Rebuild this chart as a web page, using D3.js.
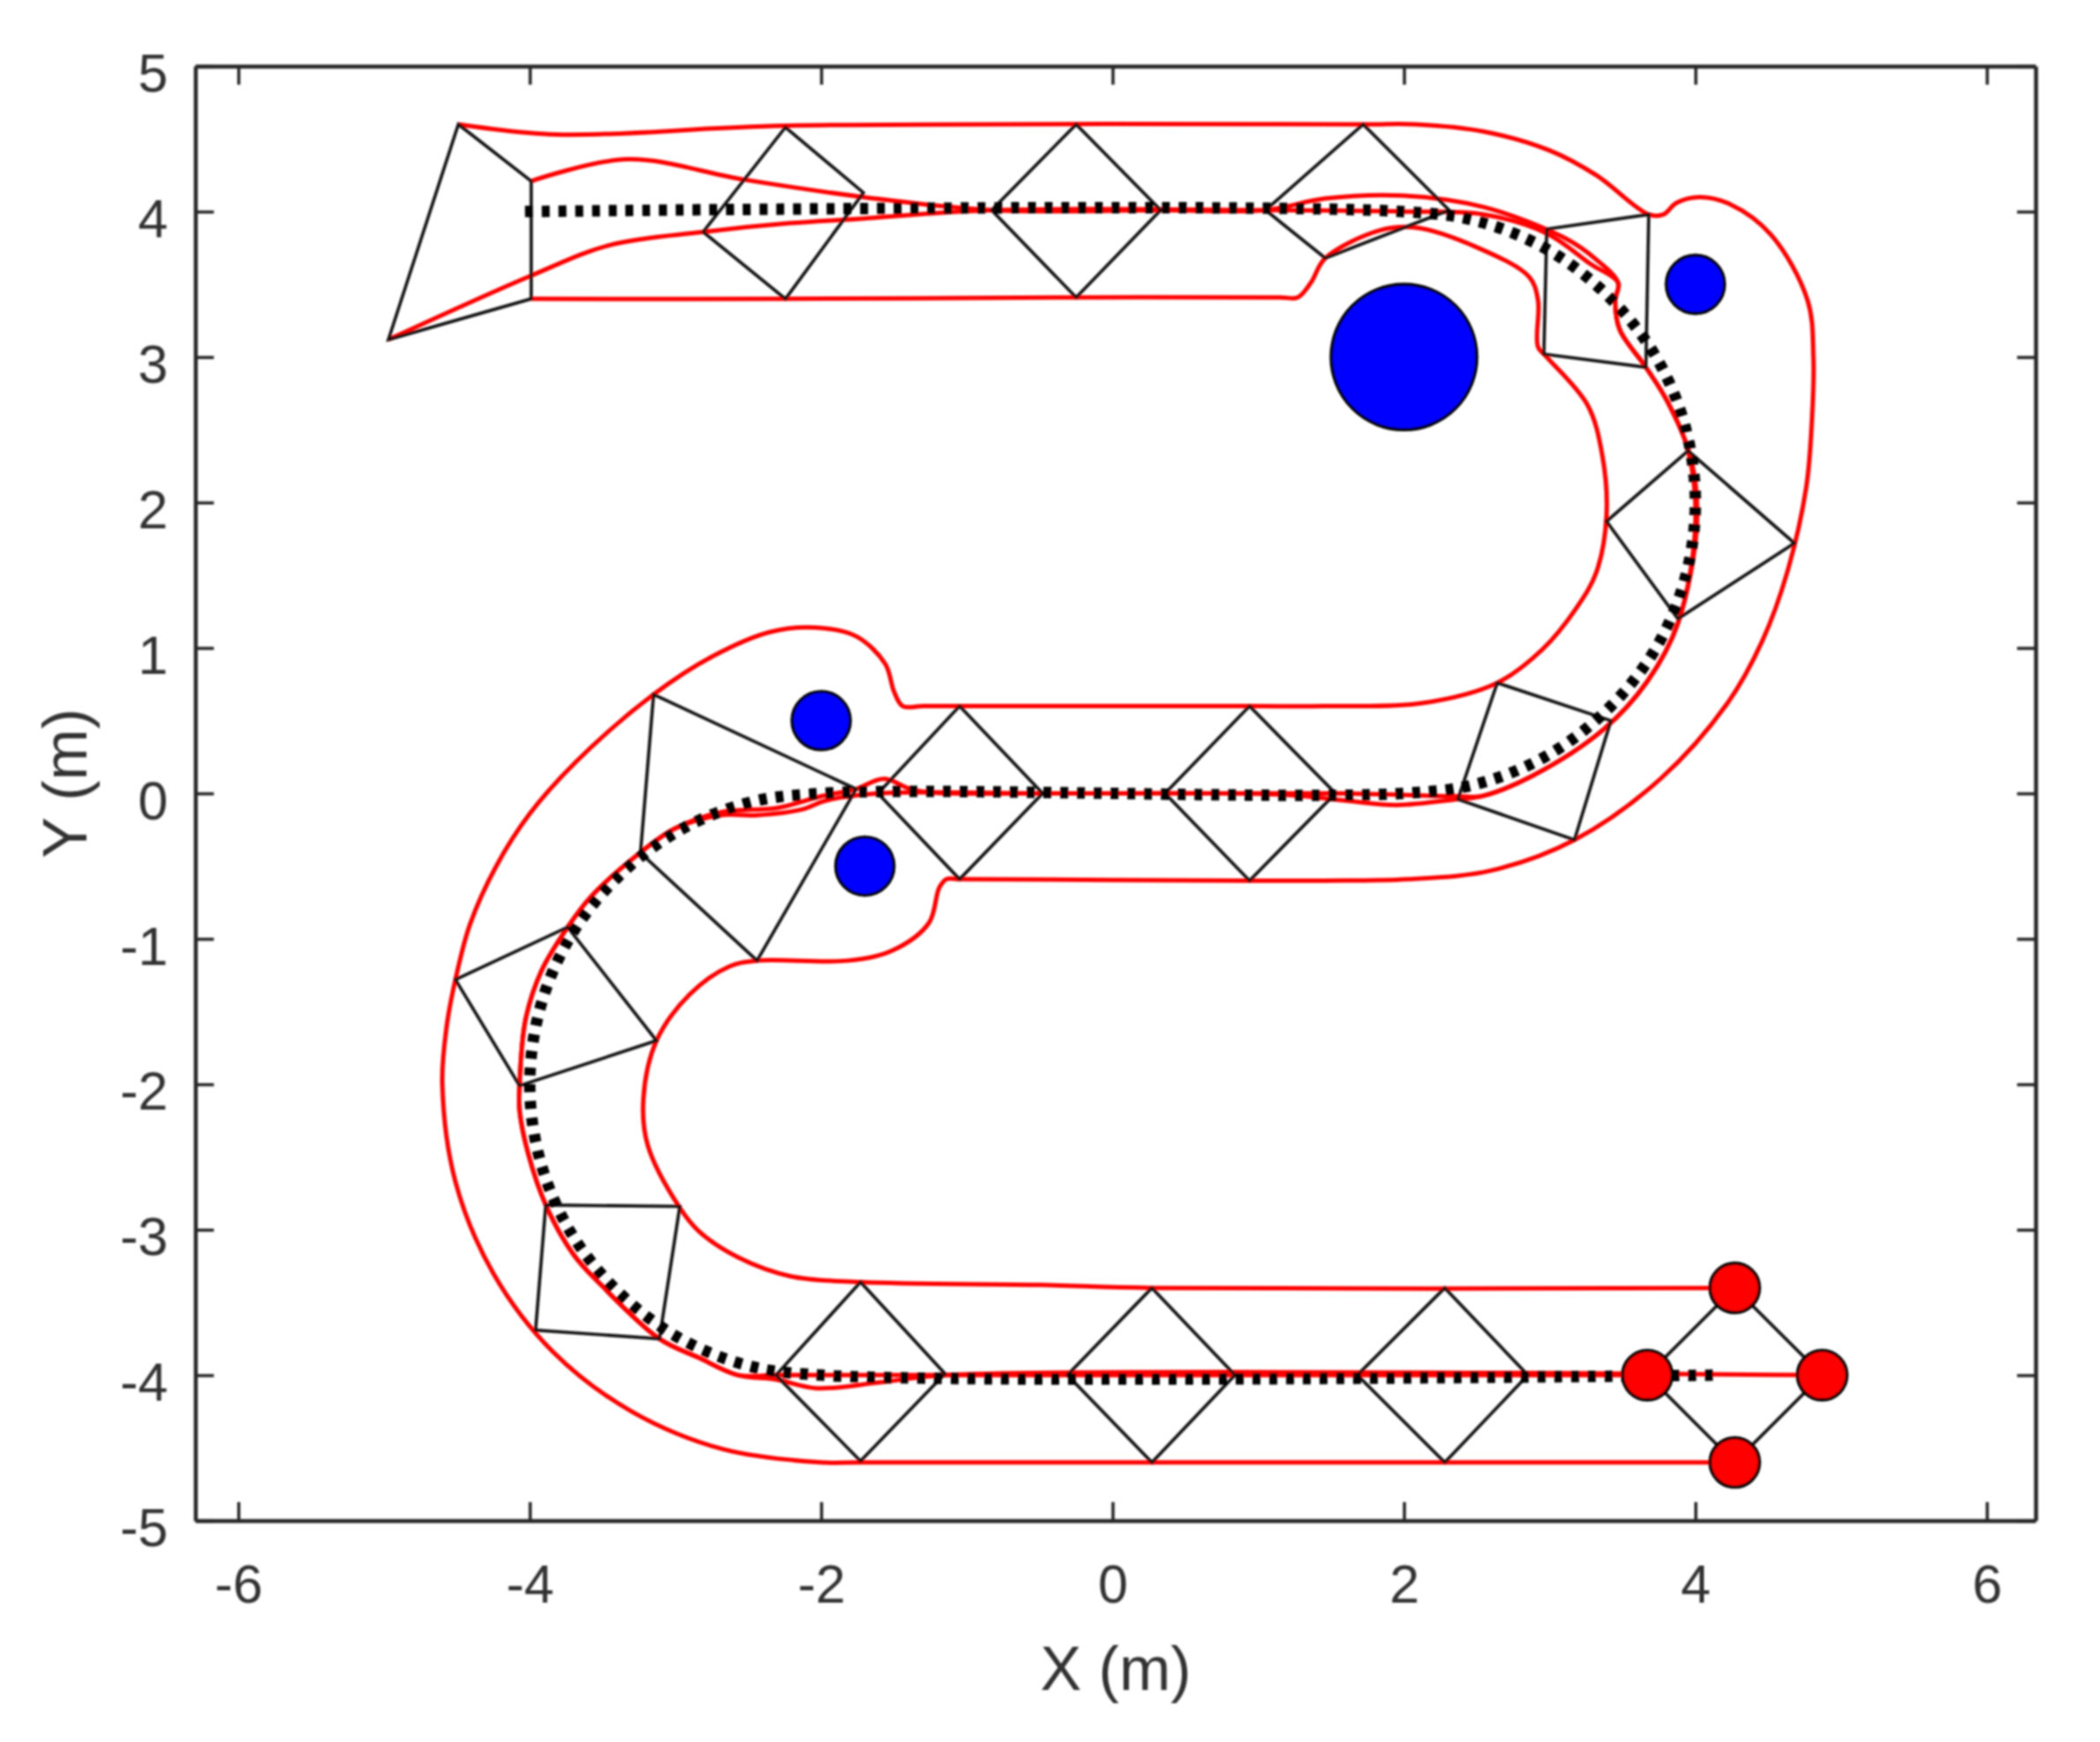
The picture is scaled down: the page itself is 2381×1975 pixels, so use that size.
<!DOCTYPE html>
<html><head><meta charset="utf-8">
<script src="https://cdn.jsdelivr.net/npm/d3@7/dist/d3.min.js"></script>
<style>html,body{margin:0;padding:0;background:#fff}svg{display:block}text{font-family:"Liberation Sans",Arial,sans-serif;fill:#333}</style>
</head><body><div id="chart"></div>
<script>
const xTicks=[-6,-4,-2,0,2,4,6];
const yTicks=[-5,-4,-3,-2,-1,0,1,2,3,4,5];
const xDomain=[-6.295,6.335], yDomain=[-5,5];
const xLabel="X (m)", yLabel="Y (m)";

// reference path (dotted)
const refPath=[[4.12,-4],[-2,-4],[-2.52,-3.93],[-3,-3.73],[-3.41,-3.41],[-3.73,-3],[-3.93,-2.52],[-4,-2],[-3.93,-1.48],[-3.73,-1],[-3.41,-.59],[-3,-.27],[-2.52,-.07],[-2,0],[2,0],[2.52,.07],[3,.27],[3.41,.59],[3.73,1],[3.93,1.48],[4,2],[3.93,2.52],[3.73,3],[3.41,3.41],[3,3.73],[2.52,3.93],[2,4],[-4.05,4]];

// robot trajectories (red)
const trackBottom=[[4.27,-4.6],[0.27,-4.6],[-1.73,-4.6],[-2,-4.6],[-2.67,-4.51],[-3.3,-4.25],[-3.84,-3.84],[-4.25,-3.3],[-4.51,-2.67],[-4.6,-2],[-4.57,-1.6],[-4.51,-1.28],[-4.41,-.9],[-4.23,-.5],[-4,-.14],[-3.68,.22],[-3.15,.68],[-2.75,.94],[-2.35,1.11],[-2.04,1.14],[-1.76,1.08],[-1.56,.89],[-1.5,.7],[-1.44,.6],[-1.3,.6],[-1.05,.6],[.94,.6],[1.45,.6],[2.12,.62],[2.64,.76],[2.95,.99],[3.18,1.27],[3.32,1.52],[3.39,1.91],[3.36,2.33],[3.26,2.67],[2.98,3],[2.92,3.07],[2.92,3.39],[2.86,3.55],[2.51,3.75],[2.08,3.89],[1.83,3.87],[1.46,3.68],[1.36,3.51],[1.27,3.41],[1.15,3.41],[-.25,3.41],[-2.245,3.4],[-3.99,3.4]];
const trackTop=[[4.27,-3.4],[.27,-3.4],[-.49,-3.38],[-1.73,-3.36],[-2.21,-3.32],[-2.57,-3.19],[-2.84,-3.01],[-2.97,-2.85],[-3.19,-2.42],[-3.22,-2.1],[-3.13,-1.7],[-2.9,-1.38],[-2.63,-1.19],[-2.44,-1.15],[-1.82,-1.15],[-1.51,-1.08],[-1.26,-.89],[-1.19,-.65],[-1.14,-.59],[-1.05,-.59],[.94,-.6],[1.45,-.6],[2.03,-.59],[2.6,-.53],[3.17,-.32],[3.76,.1],[4.22,.62],[4.46,1.05],[4.63,1.52],[4.76,2.1],[4.8,2.57],[4.81,3.0],[4.77,3.39],[4.52,3.84],[4.24,4.05],[4.03,4.1],[3.87,4.06],[3.78,3.98],[3.68,3.98],[3.32,4.25],[3,4.42],[2.55,4.55],[2.08,4.6],[1.72,4.6],[-2.24,4.59],[-3.82,4.53],[-4.49,4.6]];
const trackFront=[[3.67,-4],[-1.15,-4],[-2.31,-4],[-2.57,-4],[-2.84,-3.88],[-3.11,-3.75],[-3.51,-3.38],[-3.7,-3.17],[-3.89,-2.83],[-4.01,-2.48],[-4.07,-2.18],[-4.07,-2.01],[-4.03,-1.56],[-3.92,-1.22],[-3.74,-.92],[-3.58,-.71],[-3.27,-.43],[-3,-.24],[-2.69,-.13],[-2.3,-.1],[-2,-.02],[-1.76,.03],[-1.57,.1],[-1.35,.02],[-.48,0],[1.53,0],[2.37,-.02],[2.53,-.02],[2.88,.12],[3.37,.44],[3.67,.77],[3.88,1.17],[4,1.85],[3.95,2.355],[3.81,2.69],[3.66,2.93],[3.48,3.19],[3.45,3.39],[3.47,3.51],[3.28,3.64],[2.98,3.85],[2.55,3.98],[2,4],[1.05,4.01],[-.83,4.01],[-1.75,3.95],[-2.22,3.92],[-2.81,3.86],[-3.45,3.77],[-3.99,3.56],[-4.97,3.12]];
const trackRear=[[4.87,-4],[-1.15,-4],[-1.6,-4.05],[-2.03,-4.09],[-2.31,-4.03],[-2.57,-4],[-2.84,-3.88],[-3.11,-3.75],[-3.51,-3.38],[-3.7,-3.17],[-3.89,-2.83],[-4.01,-2.48],[-4.07,-2.18],[-4.07,-2.01],[-4.03,-1.56],[-3.92,-1.22],[-3.74,-.92],[-3.58,-.71],[-3.27,-.43],[-3,-.24],[-2.69,-.15],[-2.44,-.15],[-2.13,-.11],[-1.97,-.05],[-1.61,0],[-.48,0],[1.2,-.01],[1.6,-.05],[1.95,-.08],[2.37,-.04],[2.53,-.02],[2.88,.12],[3.37,.44],[3.67,.77],[3.88,1.17],[4.01,1.85],[3.97,2.3],[3.81,2.69],[3.66,2.93],[3.48,3.19],[3.45,3.39],[3.47,3.51],[3.32,3.67],[3.1,3.82],[2.55,4.03],[1.99,4.11],[1.46,4.09],[1.05,4.01],[.33,4.01],[-.83,4.01],[-1.71,4.1],[-2.53,4.22],[-3.33,4.36],[-3.99,4.21]];

// formation quadrilaterals (black)
const formationStart=[[4.27,-3.4],[4.87,-4],[4.27,-4.6],[3.67,-4]];
const q1=[[2.28,-3.4],[2.85,-4],[2.28,-4.6],[1.68,-4]];
const q2=[[.27,-3.4],[.84,-4],[.27,-4.6],[-.31,-4]];
const q3=[[-1.73,-3.36],[-1.15,-3.99],[-1.73,-4.59],[-2.31,-4]];
const q4=[[-3.89,-2.83],[-2.97,-2.84],[-3.11,-3.75],[-3.96,-3.69]];
const q5=[[-4.51,-1.28],[-3.74,-.92],[-3.13,-1.7],[-4.07,-2.01]];
const q6=[[-3.15,.68],[-1.76,.03],[-2.44,-1.15],[-3.24,-.41]];
const q7=[[-1.05,.6],[-.48,0],[-1.05,-.59],[-1.61,0]];
const q8=[[.94,.6],[1.53,0],[.94,-.6],[.36,0]];
const q9=[[2.64,.76],[3.42,.5],[3.17,-.32],[2.37,-.04]];
const q10=[[3.95,2.355],[4.68,1.72],[3.88,1.2],[3.39,1.87]];
const q11=[[2.98,3.88],[3.68,3.98],[3.66,2.93],[2.96,3.02]];
const q12=[[1.72,4.6],[2.31,4.01],[1.46,3.68],[1.05,4.01]];
const q13=[[-.25,4.6],[.33,4.01],[-.25,3.41],[-.83,4.01]];
const q14=[[-2.245,4.58],[-1.71,4.13],[-2.245,3.4],[-2.81,3.86]];
const q15=[[-4.49,4.6],[-3.99,4.21],[-3.99,3.4],[-4.97,3.12]];

// obstacles and robots: [x, y, radius]
const obstacles=[[2,3,.5],[4,3.5,.2],[-2,.5,.2],[-1.7,-.5,.2]];
const robots=[[4.27,-3.4,.17],[3.67,-4,.17],[4.87,-4,.17],[4.27,-4.6,.17]];

const W=2381,H=1975,L=221.5,R=2308,T=75,B=1724;
const x=d3.scaleLinear().domain(xDomain).range([L,R]);
const y=d3.scaleLinear().domain(yDomain).range([B,T]);
const svg=d3.select("#chart").append("svg").attr("width",W).attr("height",H).attr("viewBox",`0 0 ${W} ${H}`);
svg.append("rect").attr("width",W).attr("height",H).attr("fill","#fff");
const defs=svg.append("defs");
defs.append("filter").attr("id","soft").attr("x","-5%").attr("y","-5%").attr("width","110%").attr("height","110%")
  .append("feGaussianBlur").attr("stdDeviation",0.8);
const root=svg.append("g").attr("filter","url(#soft)");

const curve=d3.line().x(d=>x(d[0])).y(d=>y(d[1])).curve(d3.curveCatmullRom.alpha(0.5));
const poly=d3.line().x(d=>x(d[0])).y(d=>y(d[1])).curve(d3.curveLinearClosed);

root.append("g").selectAll("path").data([trackBottom,trackTop,trackFront,trackRear]).join("path")
  .attr("d",curve).attr("fill","none").attr("stroke","#ff0000").attr("stroke-width",5).attr("stroke-linejoin","round");
root.append("g").selectAll("path").data([formationStart,q1,q2,q3,q4,q5,q6,q7,q8,q9,q10,q11,q12,q13,q14,q15]).join("path")
  .attr("d",poly).attr("fill","none").attr("stroke","#111").attr("stroke-width",3.6);
root.append("path").datum(refPath).attr("d",curve).attr("fill","none").attr("stroke","#000")
  .attr("stroke-width",13).attr("stroke-dasharray","9 10");

const discs=(data,fill)=>root.append("g").selectAll("ellipse").data(data).join("ellipse")
  .attr("cx",d=>x(d[0])).attr("cy",d=>y(d[1]))
  .attr("rx",d=>x(d[2])-x(0)).attr("ry",d=>y(0)-y(d[2]))
  .attr("fill",fill).attr("stroke","#000").attr("stroke-width",3.6);
discs(obstacles,"#0000ff");
discs(robots,"#ff0000");

function style(g){
  g.selectAll(".domain").attr("stroke","#262626").attr("stroke-width",4.5);
  g.selectAll(".tick line").attr("stroke","#262626").attr("stroke-width",3.5);
  g.selectAll(".tick text").style("font-size","61px").attr("fill","#333");
}
const fmt=d=>String(d);
root.append("g").attr("transform",`translate(0,${B})`)
  .call(d3.axisBottom(x).tickValues(xTicks).tickFormat(fmt).tickSizeInner(-21).tickSizeOuter(0).tickPadding(50)).call(style);
root.append("g").attr("transform",`translate(0,${T})`)
  .call(d3.axisTop(x).tickValues(xTicks).tickFormat("").tickSizeInner(-21).tickSizeOuter(0)).call(style);
root.append("g").attr("transform",`translate(${L},0)`)
  .call(d3.axisLeft(y).tickValues(yTicks).tickFormat(fmt).tickSizeInner(-21).tickSizeOuter(0).tickPadding(31)).call(style)
  .selectAll(".tick text").attr("dy","0.47em");
root.append("g").attr("transform",`translate(${R},0)`)
  .call(d3.axisRight(y).tickValues(yTicks).tickFormat("").tickSizeInner(-21).tickSizeOuter(0)).call(style);

root.append("text").attr("x",1265).attr("y",1916).attr("text-anchor","middle").style("font-size","70px").text(xLabel);
root.append("text").attr("transform","translate(98,888) rotate(-90)").attr("text-anchor","middle").style("font-size","70px").text(yLabel);
</script></body></html>
